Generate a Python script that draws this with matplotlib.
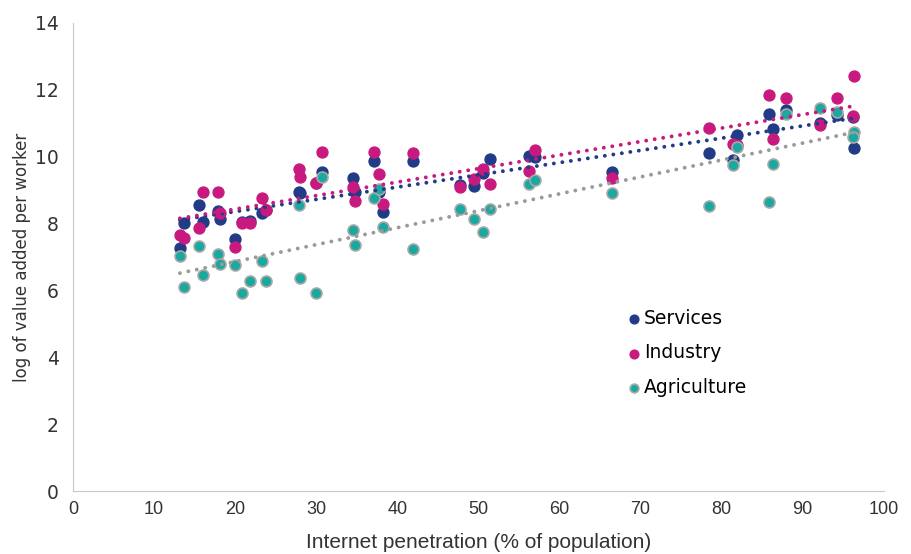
import matplotlib.pyplot as plt
import numpy as np

# Internet penetration (% of population), one value per country
internet = [13.2, 13.7, 15.6, 16.0, 17.9, 18.1, 20.0, 20.9, 21.8, 23.3,
            23.8, 27.9, 28.0, 30.0, 30.7, 34.5, 34.8, 37.2, 37.8, 38.3,
            42.0, 47.7, 49.5, 50.6, 51.5, 56.3, 57.0, 66.5, 78.5, 81.4,
            81.9, 85.8, 86.4, 88.0, 92.2, 94.2, 96.3, 96.2]

services = [7.26, 8.03, 8.55, 8.06, 8.39, 8.13, 7.53, 8.05, 8.07, 8.33,
            8.41, 8.95, 8.90, 9.20, 9.55, 9.35, 8.95, 9.87, 8.95, 8.36,
            9.87, 9.15, 9.11, 9.50, 9.92, 10.02, 10.00, 9.55, 10.10, 9.90,
            10.65, 11.27, 10.82, 11.40, 11.00, 11.25, 10.27, 11.20]

industry = [7.66, 7.56, 7.88, 8.95, 8.95, 8.31, 7.31, 8.01, 8.01, 8.75,
            8.41, 9.62, 9.38, 9.22, 10.15, 9.08, 8.68, 10.15, 9.48, 8.58,
            10.10, 9.08, 9.32, 9.62, 9.17, 9.57, 10.20, 9.37, 10.87, 10.38,
            10.35, 11.85, 10.52, 11.77, 10.95, 11.75, 12.41, 11.22]

agriculture = [7.03, 6.11, 7.34, 6.45, 7.09, 6.78, 6.76, 5.91, 6.28, 6.89,
               6.28, 8.55, 6.36, 5.91, 9.40, 7.81, 7.35, 8.77, 9.02, 7.89,
               7.23, 8.43, 8.14, 7.74, 8.44, 9.18, 9.30, 8.91, 8.53, 9.74,
               10.28, 8.64, 9.78, 11.27, 11.45, 11.35, 10.75, 10.58]

navy = '#213B87'
magenta = '#C81A7E'
teal = '#1AA9A0'
grey = '#9A9A9A'

fig = plt.figure(figsize=(9.11, 5.54), dpi=100)
ax = fig.add_axes([0.080, 0.1137, 0.890, 0.8448])

x = np.array(internet)
ax.scatter(x, services, s=62, color=navy, label='Services', zorder=3)
ax.scatter(x, industry, s=62, color=magenta, label='Industry', zorder=3)
ax.scatter(x, agriculture, s=62, color=teal, edgecolor='#A8A8A8', linewidth=1.2,
           label='Agriculture', zorder=3)

# linear trendlines over the data range
xs = np.linspace(x.min(), x.max(), 50)
for vals, c in [(services, navy), (industry, magenta), (agriculture, grey)]:
    k, b = np.polyfit(x, vals, 1)
    ax.plot(xs, k * xs + b, color=c, lw=2.8, linestyle=(0, (0.01, 2.2)),
            dash_capstyle='round', zorder=4)

ax.set_xlim(0, 100)
ax.set_ylim(0, 14)
ax.set_xticks(range(0, 101, 10))
ax.set_yticks(range(0, 15, 2))
ax.tick_params(length=0, labelsize=13.5, colors='#333333')
ax.tick_params(axis='x', pad=7)
ax.tick_params(axis='y', pad=10)
for lab in ax.get_xticklabels():
    lab.set_family('Liberation Sans')
    lab.set_fontsize(13)

for side in ['top', 'right']:
    ax.spines[side].set_visible(False)
for side in ['left', 'bottom']:
    ax.spines[side].set_color('#C8C8C8')

ax.set_xlabel('Internet penetration (% of population)', fontsize=15, color='#333333',
              family='Liberation Sans', labelpad=11)
ax.set_ylabel('log of value added per worker', fontsize=12, color='#333333', labelpad=3)

leg = ax.legend(loc='center left', bbox_to_anchor=(0.66, 0.295), frameon=False,
                fontsize=13.5, handletextpad=0.0, labelspacing=0.85, markerscale=0.8,
                handlelength=1.0)

fig.savefig('out.png', dpi=100)
